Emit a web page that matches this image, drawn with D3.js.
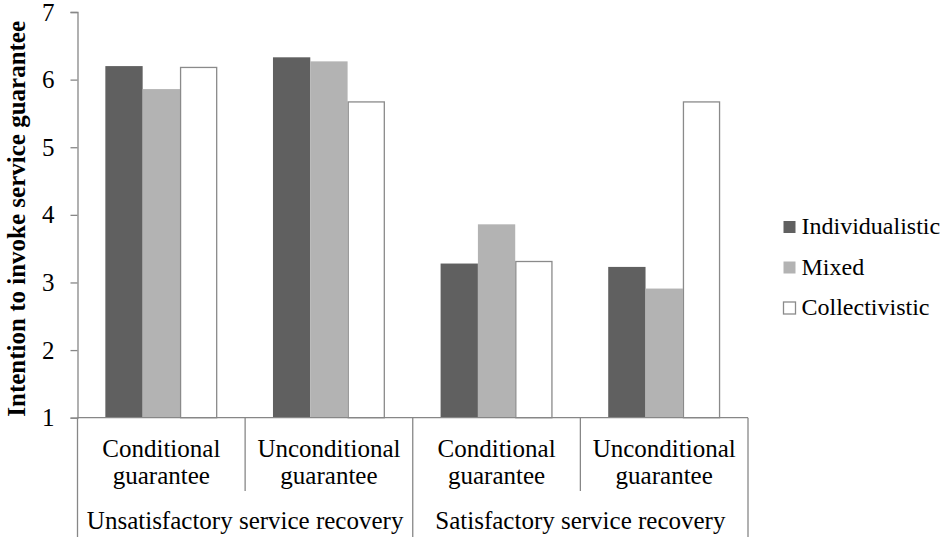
<!DOCTYPE html>
<html>
<head>
<meta charset="utf-8">
<script src="https://cdn.jsdelivr.net/npm/d3@7"></script>
</head>
<body style="margin:0">
<svg id="chart" width="948" height="537"></svg>
<script>
// Guarantee type within each recovery condition
const categories = ["Conditional guarantee", "Unconditional guarantee", "Conditional guarantee", "Unconditional guarantee"];
const categoryLines = [["Conditional", "guarantee"], ["Unconditional", "guarantee"], ["Conditional", "guarantee"], ["Unconditional", "guarantee"]];
const groups = ["Unsatisfactory service recovery", "Satisfactory service recovery"];
const seriesNames = ["Individualistic", "Mixed", "Collectivistic"];
const individualistic = [6.20, 6.33, 3.28, 3.23];
const mixed = [5.86, 6.27, 3.86, 2.91];
const collectivistic = [6.18, 5.67, 3.31, 5.67];
const yTicks = [1, 2, 3, 4, 5, 6, 7];
const yTitle = "Intention to invoke service guarantee";

const seriesValues = [individualistic, mixed, collectivistic];
const fills = ["#606060", "#b3b3b3", "#ffffff"];
const strokes = ["none", "none", "#8a8a8a"];
const axisColor = "#878787";
const FONT = "'Liberation Serif', 'Times New Roman', serif";

const svg = d3.select("#chart");
const plotLeft = 77.5, plotRight = 748, plotTop = 12, plotBottom = 417.7;

const x = d3.scaleBand().domain(d3.range(categories.length)).range([plotLeft, plotRight]);
const y = d3.scaleLinear().domain([1, 7]).range([plotBottom, plotTop]);
const bw = x.bandwidth();
const barW = bw * 0.2226;
const xs = d3.scaleBand().domain(d3.range(seriesNames.length))
  .range([bw / 2 - 1.5 * barW, bw / 2 + 1.5 * barW]);

// Bars
const rows = [];
seriesValues.forEach((vals, s) => vals.forEach((v, i) => rows.push({ s, i, v })));
svg.append("g").selectAll("rect").data(rows).join("rect")
  .attr("x", d => x(d.i) + xs(d.s) + (d.s === 2 ? 0.6 : 0))
  .attr("width", d => xs.bandwidth() - (d.s === 2 ? 1.2 : 0))
  .attr("y", d => y(d.v))
  .attr("height", d => y(1) - y(d.v))
  .attr("fill", d => fills[d.s])
  .attr("stroke", d => strokes[d.s])
  .attr("stroke-width", 1.3);

// Y axis
const yAxis = svg.append("g")
  .attr("transform", `translate(${plotLeft},0)`)
  .call(d3.axisLeft(y).tickValues(yTicks).tickFormat(d3.format("d")).tickSizeOuter(0).tickSize(7).tickPadding(16));
yAxis.attr("font-family", null).attr("font-size", null);
yAxis.select(".domain").attr("stroke", axisColor).attr("stroke-width", 1.3);
yAxis.selectAll(".tick line").attr("stroke", axisColor).attr("stroke-width", 1.3);
yAxis.selectAll(".tick text")
  .style("font-family", FONT).style("font-size", "25px").attr("fill", "#000");

// Category axis: baseline, dividers and two-level labels
const cat = svg.append("g").attr("stroke", axisColor).attr("stroke-width", 1.3);
cat.append("line").attr("x1", plotLeft).attr("x2", plotRight).attr("y1", plotBottom).attr("y2", plotBottom);
d3.range(categories.length + 1).forEach(k => {
  const xx = k < categories.length ? x(k) : plotRight;
  const outer = (k % 2 === 0);
  cat.append("line").attr("x1", xx).attr("x2", xx)
    .attr("y1", plotBottom).attr("y2", outer ? 537 : 491);
});

const lab = svg.append("g").attr("text-anchor", "middle").attr("fill", "#000");
categoryLines.forEach((lines, i) => {
  lines.forEach((t, j) => {
    lab.append("text")
      .style("font-family", FONT).style("font-size", "25px")
      .attr("x", x(i) + bw / 2).attr("y", 456.7 + j * 27.5).text(t);
  });
});
groups.forEach((g, gi) => {
  lab.append("text")
    .style("font-family", FONT).style("font-size", "25px")
    .attr("x", x(gi * 2) + bw).attr("y", 529).text(g);
});

// Y axis title
svg.append("text")
  .attr("transform", `translate(25,${(plotTop + plotBottom) / 2 + 4}) rotate(-90)`)
  .attr("text-anchor", "middle")
  .style("font-family", FONT)
  .style("font-size", "25px")
  .style("font-weight", "bold")
  .attr("fill", "#000")
  .text(yTitle);

// Legend
const lg = svg.append("g");
seriesNames.forEach((name, s) => {
  const by = 234 + s * 40.5;
  lg.append("rect").attr("x", 783.5).attr("y", by - 13).attr("width", 12).attr("height", 12)
    .attr("fill", fills[s]).attr("stroke", strokes[s]).attr("stroke-width", 1.3);
  lg.append("text").attr("x", 801.5).attr("y", by)
    .style("font-family", FONT).style("font-size", "24px")
    .attr("fill", "#000").text(name);
});
</script>
</body>
</html>
